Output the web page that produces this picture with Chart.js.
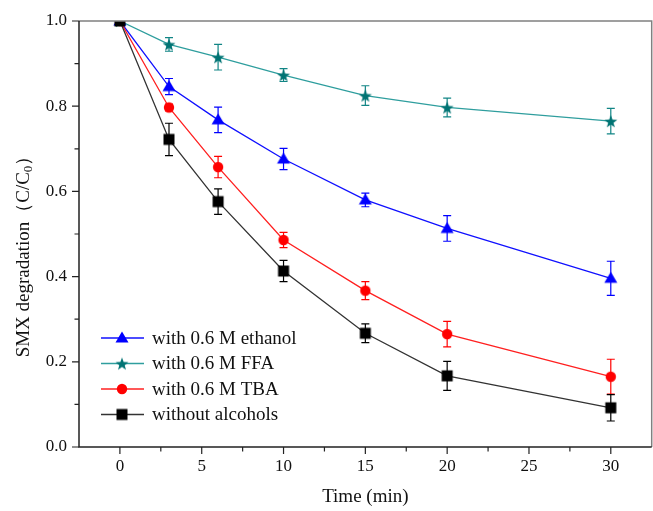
<!DOCTYPE html>
<html>
<head>
<meta charset="utf-8">
<script src="https://cdn.jsdelivr.net/npm/chart.js@4.4.1/dist/chart.umd.min.js"></script>
<style>
html,body{margin:0;padding:0;background:#fff;overflow:hidden;}
#wrap{width:653px;height:511px;position:relative;overflow:hidden;}
#inner{width:720px;height:511px;position:absolute;left:0;top:0;}
</style>
</head>
<body>
<div id="wrap"><div id="inner"><canvas id="c" width="660" height="511"></canvas></div></div>
<script>
// ---- Data ----
const times = [0, 3, 6, 10, 15, 20, 30];
const ethanol    = [1.0, 0.846, 0.768, 0.676, 0.580, 0.513, 0.396];
const ethanolErr = [0, 0.019, 0.030, 0.025, 0.016, 0.030, 0.040];
const ffa        = [1.0, 0.945, 0.915, 0.873, 0.825, 0.797, 0.765];
const ffaErr     = [0, 0.016, 0.030, 0.015, 0.023, 0.022, 0.030];
const tba        = [1.0, 0.797, 0.657, 0.486, 0.367, 0.265, 0.165];
const tbaErr     = [0, 0.008, 0.025, 0.018, 0.021, 0.030, 0.041];
const without    = [1.0, 0.722, 0.576, 0.413, 0.267, 0.167, 0.092];
const withoutErr = [0, 0.038, 0.030, 0.025, 0.022, 0.034, 0.031];
const seriesNames = ['with 0.6 M ethanol', 'with 0.6 M FFA', 'with 0.6 M TBA', 'without alcohols'];
const xTicks = [0, 5, 10, 15, 20, 25, 30];
const xMinorTicks = [2.5, 7.5, 12.5, 17.5, 22.5, 27.5];
const yTicks = [0.0, 0.2, 0.4, 0.6, 0.8, 1.0];
const yMinorTicks = [0.1, 0.3, 0.5, 0.7, 0.9];
const xTitle = 'Time (min)';

// ---- Marker images ----
function mk(draw) {
  const c = document.createElement('canvas');
  c.width = 18; c.height = 18;
  const g = c.getContext('2d');
  draw(g, 9, 9);
  return c;
}
const triImg = mk((g, cx, cy) => {
  g.fillStyle = '#0000ff';
  g.beginPath();
  g.moveTo(cx, cy - 6.5); g.lineTo(cx + 6.5, cy + 4.5); g.lineTo(cx - 6.5, cy + 4.5);
  g.closePath(); g.fill();
});
const starImg = mk((g, cx, cy) => {
  g.fillStyle = '#007373';
  g.beginPath();
  const R = 6.8, r = 2.8;
  for (let i = 0; i < 10; i++) {
    const a = -Math.PI / 2 + i * Math.PI / 5;
    const rad = i % 2 === 0 ? R : r;
    const px = cx + rad * Math.cos(a), py = cy + rad * Math.sin(a) + 0.8;
    if (i === 0) g.moveTo(px, py); else g.lineTo(px, py);
  }
  g.closePath(); g.fill();
});
const circImg = mk((g, cx, cy) => {
  g.fillStyle = '#ff0000';
  g.beginPath(); g.arc(cx, cy, 5.2, 0, Math.PI * 2); g.fill();
});
const sqImg = mk((g, cx, cy) => {
  g.fillStyle = '#000000';
  g.fillRect(cx - 5.5, cy - 5.5, 11, 11);
});

const series = [
  {name: seriesNames[0], vals: ethanol, err: ethanolErr, line: '#1010ff', bar: '#0000ff', img: triImg, order: 3},
  {name: seriesNames[1], vals: ffa, err: ffaErr, line: '#2f9e9e', bar: '#118585', img: starImg, order: 4},
  {name: seriesNames[2], vals: tba, err: tbaErr, line: '#ff2020', bar: '#ff0000', img: circImg, order: 2},
  {name: seriesNames[3], vals: without, err: withoutErr, line: '#333333', bar: '#000000', img: sqImg, order: 1}
];

const SERIF = '"Liberation Serif", "Times New Roman", serif';

const errorBars = {
  id: 'errorBars',
  beforeDatasetsDraw(chart) {
    const ctx = chart.ctx, xs = chart.scales.x, ys = chart.scales.y;
    ctx.save();
    ctx.lineWidth = 1.2;
    series.forEach(s => {
      ctx.strokeStyle = s.bar;
      s.vals.forEach((v, i) => {
        const e = s.err[i];
        if (!e) return;
        const x = xs.getPixelForValue(times[i]);
        const y1 = ys.getPixelForValue(v + e), y2 = ys.getPixelForValue(v - e);
        ctx.beginPath();
        ctx.moveTo(x, y1); ctx.lineTo(x, y2);
        ctx.moveTo(x - 4, y1); ctx.lineTo(x + 4, y1);
        ctx.moveTo(x - 4, y2); ctx.lineTo(x + 4, y2);
        ctx.stroke();
      });
    });
    ctx.restore();
  }
};

const decor = {
  id: 'decor',
  afterDraw(chart) {
    const ctx = chart.ctx, a = chart.chartArea, xs = chart.scales.x, ys = chart.scales.y;
    ctx.save();
    // frame
    ctx.lineWidth = 1.5;
    ctx.strokeStyle = '#808080';
    ctx.beginPath();
    ctx.moveTo(a.left, a.top); ctx.lineTo(a.right, a.top); ctx.lineTo(a.right, a.bottom);
    ctx.stroke();
    ctx.strokeStyle = '#222';
    ctx.beginPath();
    ctx.moveTo(a.left, a.top); ctx.lineTo(a.left, a.bottom); ctx.lineTo(a.right, a.bottom);
    ctx.stroke();
    // ticks
    ctx.lineWidth = 1.2;
    ctx.beginPath();
    yTicks.forEach(v => { const y = ys.getPixelForValue(v); ctx.moveTo(a.left - 7, y); ctx.lineTo(a.left, y); });
    yMinorTicks.forEach(v => { const y = ys.getPixelForValue(v); ctx.moveTo(a.left - 4.5, y); ctx.lineTo(a.left, y); });
    xTicks.forEach(v => { const x = xs.getPixelForValue(v); ctx.moveTo(x, a.bottom); ctx.lineTo(x, a.bottom + 7); });
    xMinorTicks.forEach(v => { const x = xs.getPixelForValue(v); ctx.moveTo(x, a.bottom); ctx.lineTo(x, a.bottom + 4.5); });
    ctx.stroke();

    // x tick labels
    ctx.fillStyle = '#111';
    ctx.font = '17px ' + SERIF;
    ctx.textAlign = 'center';
    ctx.textBaseline = 'middle';
    xTicks.forEach(v => ctx.fillText(String(v), xs.getPixelForValue(v), a.bottom + 20));

    // x title
    ctx.font = '19px ' + SERIF;
    ctx.fillText(xTitle, (a.left + a.right) / 2, 497);

    // y title with subscript
    ctx.save();
    ctx.translate(24, 252);
    ctx.rotate(-Math.PI / 2);
    ctx.textAlign = 'left';
    ctx.textBaseline = 'middle';
    const big = '19px ' + SERIF, small = '13px ' + SERIF;
    const parts = [
      {t: 'SMX degradation', f: big, dy: 0},
      {t: '（C/C', f: big, dy: 0},
      {t: '0', f: small, dy: 5},
      {t: '）', f: big, dy: 0}
    ];
    let total = 0;
    parts.forEach(p => { ctx.font = p.f; p.w = ctx.measureText(p.t).width; total += p.w; });
    let x = -total / 2;
    parts.forEach(p => { ctx.font = p.f; ctx.fillText(p.t, x, p.dy); x += p.w; });
    ctx.restore();

    // legend
    const rows = [338, 363.5, 389, 414.5];
    ctx.font = '19px ' + SERIF;
    ctx.textAlign = 'left';
    ctx.textBaseline = 'middle';
    series.forEach((s, i) => {
      const y = rows[i];
      ctx.strokeStyle = s.line;
      ctx.lineWidth = 1.3;
      ctx.beginPath(); ctx.moveTo(101, y); ctx.lineTo(144, y); ctx.stroke();
      ctx.drawImage(s.img, 122 - s.img.width / 2, y - s.img.height / 2);
      ctx.fillStyle = '#111';
      ctx.fillText(s.name, 152, y + 1);
    });
    ctx.restore();
  }
};

const chart = new Chart(document.getElementById('c'), {
  type: 'line',
  data: {
    datasets: series.map(s => ({
      label: s.name,
      data: times.map((t, i) => ({x: t, y: s.vals[i]})),
      borderColor: s.line,
      borderWidth: 1.3,
      pointStyle: s.img,
      pointRadius: 7,
      pointHoverRadius: 7,
      fill: false,
      tension: 0,
      order: s.order
    }))
  },
  options: {
    responsive: false,
    maintainAspectRatio: false,
    devicePixelRatio: 1,
    animation: false,
    layout: {padding: {top: 21, right: 1, left: 0, bottom: 0}},
    plugins: {legend: {display: false}, tooltip: {enabled: false}, title: {display: false}},
    scales: {
      x: {
        type: 'linear', min: -2.5, max: 32.5,
        grid: {display: false, drawTicks: false},
        border: {display: false},
        afterBuildTicks: sc => { sc.ticks = xTicks.map(v => ({value: v})); },
        afterFit: sc => { sc.height = 64; sc.paddingLeft = 0; sc.paddingRight = 0; },
        ticks: {display: false}
      },
      y: {
        type: 'linear', min: 0, max: 1.0,
        grid: {display: false, drawTicks: false},
        border: {display: false},
        afterBuildTicks: sc => { sc.ticks = yTicks.map(v => ({value: v})); },
        afterFit: sc => { sc.width = 79; sc.paddingTop = 0; sc.paddingBottom = 0; },
        ticks: {
          color: '#111', padding: 12,
          font: {family: SERIF, size: 17},
          autoSkip: false,
          callback: v => Number(v).toFixed(1)
        }
      }
    }
  },
  plugins: [errorBars, decor]
});

// keep the plot frame's right edge at x = 652 (extra canvas width is clipped by #wrap)
for (let k = 0; k < 4; k++) {
  const gap = Math.round(652 - chart.chartArea.right);
  if (gap === 0 || Math.abs(gap) > 40) break;
  chart.resize(chart.width + gap, 511);
}
</script>
</body>
</html>
